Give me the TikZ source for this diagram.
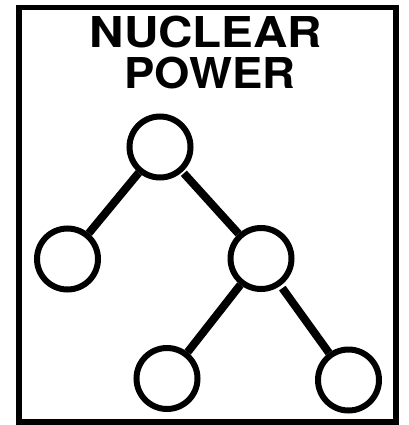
\documentclass[tikz,border=0pt]{standalone}
\usepackage{fontspec}
\setmainfont{TeX Gyre Heros}
\begin{document}
\begin{tikzpicture}[x=1pt,y=-1pt,
  frame/.style={line width=5.5pt},
  vertex/.style={circle,draw,line width=6pt,minimum size=61pt,inner sep=0pt},
  branch/.style={line width=8pt},
  title/.style={font=\fontsize{42.5}{42.5}\selectfont\bfseries,anchor=base,inner sep=0pt}]
\useasboundingbox (0,0) rectangle (408,425);
\draw[frame] (19,7.5) rectangle (396,422);
\node[title] (t1) at (206,47.5) {\scalebox{1.12}[1]{NUCLEAR}};
\node[title] (t2) at (210,88.5) {\scalebox{1.07}[1]{POWER}};
\node[vertex] (r) at (160,147) {};
\node[vertex] (a) at (67.5,259) {};
\node[vertex] (b) at (261,258.5) {};
\node[vertex] (c) at (167,378.5) {};
\node[vertex] (d) at (348.5,380) {};
\draw[branch] (r) -- (a);
\draw[branch,shorten <=2pt] (r) -- (b);
\draw[branch] (b) -- (c);
\draw[branch,shorten <=3pt] (b) -- (d);
\end{tikzpicture}
\end{document}
